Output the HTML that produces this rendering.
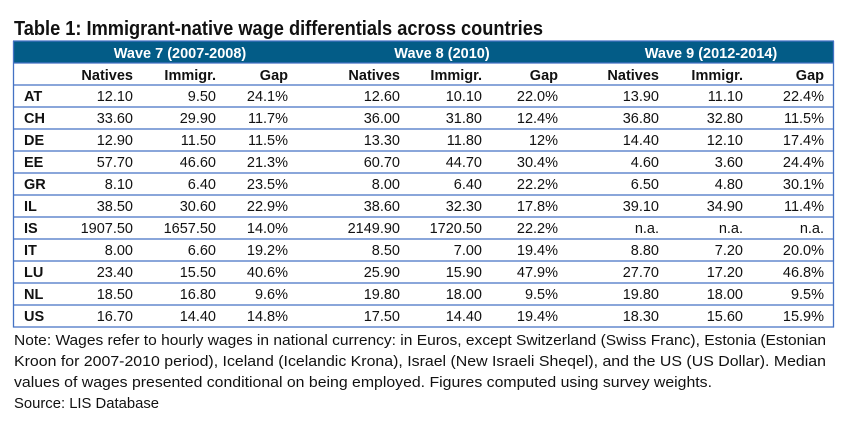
<!DOCTYPE html>
<html>
<head>
<meta charset="utf-8">
<style>
html,body{margin:0;padding:0;background:#fff;}
svg{display:block;}
text{font-family:"Liberation Sans",Arial,sans-serif;}
.d{font-size:14.5px;fill:#111;text-anchor:end;}
.h{font-size:14.5px;font-weight:bold;fill:#111;text-anchor:end;}
.c{font-size:14.5px;font-weight:bold;fill:#111;}
.w{font-size:14.5px;font-weight:bold;fill:#fff;text-anchor:middle;}
.n{font-size:15px;fill:#111;}
</style>
</head>
<body>
<svg width="853" height="431" viewBox="0 0 853 431" xmlns="http://www.w3.org/2000/svg">
<rect width="853" height="431" fill="#fff"/>
<text x="14" y="35" font-size="20" font-weight="bold" fill="#111" textLength="529" lengthAdjust="spacingAndGlyphs">Table 1: Immigrant-native wage differentials across countries</text>

<rect x="13.5" y="41" width="820" height="22" fill="#035c87"/>
<g stroke="#4472c4" stroke-width="1.3" fill="none">
<line x1="13.5" y1="41" x2="13.5" y2="327.5"/>
<line x1="833.5" y1="41" x2="833.5" y2="327.5"/>
<line x1="13" y1="41" x2="834" y2="41"/>
<line x1="13" y1="63" x2="834" y2="63"/>
<line x1="13" y1="85" x2="834" y2="85"/>
<line x1="13" y1="107" x2="834" y2="107"/>
<line x1="13" y1="129" x2="834" y2="129"/>
<line x1="13" y1="151" x2="834" y2="151"/>
<line x1="13" y1="173" x2="834" y2="173"/>
<line x1="13" y1="195" x2="834" y2="195"/>
<line x1="13" y1="217" x2="834" y2="217"/>
<line x1="13" y1="239" x2="834" y2="239"/>
<line x1="13" y1="261" x2="834" y2="261"/>
<line x1="13" y1="283" x2="834" y2="283"/>
<line x1="13" y1="305" x2="834" y2="305"/>
<line x1="13" y1="327" x2="834" y2="327"/>
</g>

<text class="w" x="180" y="58">Wave 7 (2007-2008)</text>
<text class="w" x="442" y="58">Wave 8 (2010)</text>
<text class="w" x="711" y="58">Wave 9 (2012-2014)</text>

<g class="h">
<text class="h" x="133" y="80">Natives</text>
<text class="h" x="216" y="80">Immigr.</text>
<text class="h" x="288" y="80">Gap</text>
<text class="h" x="400" y="80">Natives</text>
<text class="h" x="482" y="80">Immigr.</text>
<text class="h" x="558" y="80">Gap</text>
<text class="h" x="659" y="80">Natives</text>
<text class="h" x="743" y="80">Immigr.</text>
<text class="h" x="824" y="80">Gap</text>
</g>

<g>
<text class="c" x="24" y="101">AT</text>
<text class="d" x="133" y="101">12.10</text><text class="d" x="216" y="101">9.50</text><text class="d" x="288" y="101">24.1%</text>
<text class="d" x="400" y="101">12.60</text><text class="d" x="482" y="101">10.10</text><text class="d" x="558" y="101">22.0%</text>
<text class="d" x="659" y="101">13.90</text><text class="d" x="743" y="101">11.10</text><text class="d" x="824" y="101">22.4%</text>

<text class="c" x="24" y="123">CH</text>
<text class="d" x="133" y="123">33.60</text><text class="d" x="216" y="123">29.90</text><text class="d" x="288" y="123">11.7%</text>
<text class="d" x="400" y="123">36.00</text><text class="d" x="482" y="123">31.80</text><text class="d" x="558" y="123">12.4%</text>
<text class="d" x="659" y="123">36.80</text><text class="d" x="743" y="123">32.80</text><text class="d" x="824" y="123">11.5%</text>

<text class="c" x="24" y="145">DE</text>
<text class="d" x="133" y="145">12.90</text><text class="d" x="216" y="145">11.50</text><text class="d" x="288" y="145">11.5%</text>
<text class="d" x="400" y="145">13.30</text><text class="d" x="482" y="145">11.80</text><text class="d" x="558" y="145">12%</text>
<text class="d" x="659" y="145">14.40</text><text class="d" x="743" y="145">12.10</text><text class="d" x="824" y="145">17.4%</text>

<text class="c" x="24" y="167">EE</text>
<text class="d" x="133" y="167">57.70</text><text class="d" x="216" y="167">46.60</text><text class="d" x="288" y="167">21.3%</text>
<text class="d" x="400" y="167">60.70</text><text class="d" x="482" y="167">44.70</text><text class="d" x="558" y="167">30.4%</text>
<text class="d" x="659" y="167">4.60</text><text class="d" x="743" y="167">3.60</text><text class="d" x="824" y="167">24.4%</text>

<text class="c" x="24" y="189">GR</text>
<text class="d" x="133" y="189">8.10</text><text class="d" x="216" y="189">6.40</text><text class="d" x="288" y="189">23.5%</text>
<text class="d" x="400" y="189">8.00</text><text class="d" x="482" y="189">6.40</text><text class="d" x="558" y="189">22.2%</text>
<text class="d" x="659" y="189">6.50</text><text class="d" x="743" y="189">4.80</text><text class="d" x="824" y="189">30.1%</text>

<text class="c" x="24" y="211">IL</text>
<text class="d" x="133" y="211">38.50</text><text class="d" x="216" y="211">30.60</text><text class="d" x="288" y="211">22.9%</text>
<text class="d" x="400" y="211">38.60</text><text class="d" x="482" y="211">32.30</text><text class="d" x="558" y="211">17.8%</text>
<text class="d" x="659" y="211">39.10</text><text class="d" x="743" y="211">34.90</text><text class="d" x="824" y="211">11.4%</text>

<text class="c" x="24" y="233">IS</text>
<text class="d" x="133" y="233">1907.50</text><text class="d" x="216" y="233">1657.50</text><text class="d" x="288" y="233">14.0%</text>
<text class="d" x="400" y="233">2149.90</text><text class="d" x="482" y="233">1720.50</text><text class="d" x="558" y="233">22.2%</text>
<text class="d" x="659" y="233">n.a.</text><text class="d" x="743" y="233">n.a.</text><text class="d" x="824" y="233">n.a.</text>

<text class="c" x="24" y="255">IT</text>
<text class="d" x="133" y="255">8.00</text><text class="d" x="216" y="255">6.60</text><text class="d" x="288" y="255">19.2%</text>
<text class="d" x="400" y="255">8.50</text><text class="d" x="482" y="255">7.00</text><text class="d" x="558" y="255">19.4%</text>
<text class="d" x="659" y="255">8.80</text><text class="d" x="743" y="255">7.20</text><text class="d" x="824" y="255">20.0%</text>

<text class="c" x="24" y="277">LU</text>
<text class="d" x="133" y="277">23.40</text><text class="d" x="216" y="277">15.50</text><text class="d" x="288" y="277">40.6%</text>
<text class="d" x="400" y="277">25.90</text><text class="d" x="482" y="277">15.90</text><text class="d" x="558" y="277">47.9%</text>
<text class="d" x="659" y="277">27.70</text><text class="d" x="743" y="277">17.20</text><text class="d" x="824" y="277">46.8%</text>

<text class="c" x="24" y="299">NL</text>
<text class="d" x="133" y="299">18.50</text><text class="d" x="216" y="299">16.80</text><text class="d" x="288" y="299">9.6%</text>
<text class="d" x="400" y="299">19.80</text><text class="d" x="482" y="299">18.00</text><text class="d" x="558" y="299">9.5%</text>
<text class="d" x="659" y="299">19.80</text><text class="d" x="743" y="299">18.00</text><text class="d" x="824" y="299">9.5%</text>

<text class="c" x="24" y="321">US</text>
<text class="d" x="133" y="321">16.70</text><text class="d" x="216" y="321">14.40</text><text class="d" x="288" y="321">14.8%</text>
<text class="d" x="400" y="321">17.50</text><text class="d" x="482" y="321">14.40</text><text class="d" x="558" y="321">19.4%</text>
<text class="d" x="659" y="321">18.30</text><text class="d" x="743" y="321">15.60</text><text class="d" x="824" y="321">15.9%</text>
</g>

<text class="n" x="14" y="345" textLength="812" lengthAdjust="spacingAndGlyphs">Note: Wages refer to hourly wages in national currency: in Euros, except Switzerland (Swiss Franc), Estonia (Estonian</text>
<text class="n" x="14" y="366" textLength="812" lengthAdjust="spacingAndGlyphs">Kroon for 2007-2010 period), Iceland (Icelandic Krona), Israel (New Israeli Sheqel), and the US (US Dollar). Median</text>
<text class="n" x="14" y="387" textLength="698" lengthAdjust="spacingAndGlyphs">values of wages presented conditional on being employed. Figures computed using survey weights.</text>
<text class="n" x="14" y="408" textLength="145" lengthAdjust="spacingAndGlyphs">Source: LIS Database</text>
</svg>
</body>
</html>
